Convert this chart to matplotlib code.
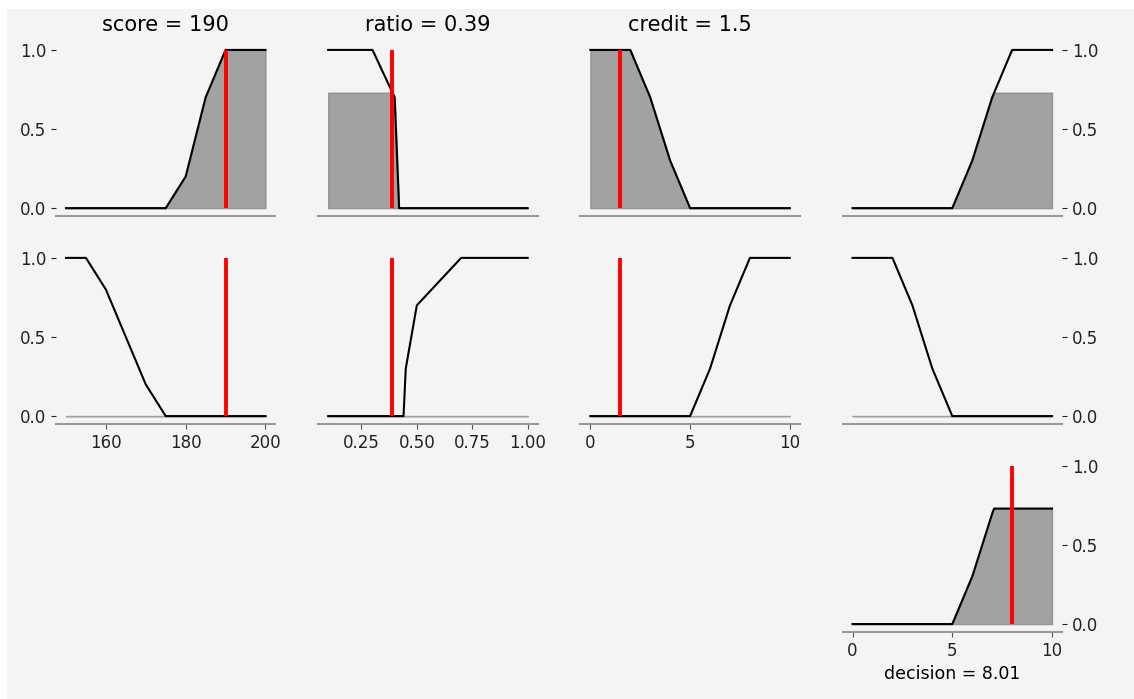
import numpy as np
import matplotlib.pyplot as plt
from matplotlib.patches import Rectangle
from matplotlib.ticker import FormatStrFormatter


# crisp inputs and defuzzified output
score = 190
ratio = 0.39
credit = 1.5
decision = 8.01

# membership functions (universe, degree)
score_x = [150, 155, 160, 165, 170, 175, 180, 185, 190, 195, 200]
score_high = [0, 0, 0, 0, 0, 0, 0.2, 0.7, 1, 1, 1]
score_low = [1, 1, 0.8, 0.5, 0.2, 0, 0, 0, 0, 0, 0]

ratio_low_x = [0.1, 0.3, 0.4, 0.42, 1.0]
ratio_low = [1, 1, 0.7, 0, 0]
ratio_high_x = [0.1, 0.44, 0.45, 0.5, 0.7, 1.0]
ratio_high = [0, 0, 0.3, 0.7, 1, 1]

credit_x = [0, 1, 2, 3, 4, 5, 6, 7, 8, 9, 10]
credit_low = [1, 1, 1, 0.7, 0.3, 0, 0, 0, 0, 0, 0]
credit_high = [0, 0, 0, 0, 0, 0, 0.3, 0.7, 1, 1, 1]

decision_x = [0, 1, 2, 3, 4, 5, 6, 7, 8, 9, 10]
decision_approve = [0, 0, 0, 0, 0, 0, 0.3, 0.7, 1, 1, 1]
decision_reject = [1, 1, 1, 0.7, 0.3, 0, 0, 0, 0, 0, 0]

# two rules: (score, ratio, credit) -> decision
rules = [
    [(score_x, score_high), (ratio_low_x, ratio_low), (credit_x, credit_low), (decision_x, decision_approve)],
    [(score_x, score_low), (ratio_high_x, ratio_high), (credit_x, credit_high), (decision_x, decision_reject)],
]
inputs = [score, ratio, credit]
titles = ['score = {}'.format(score), 'ratio = {}'.format(ratio), 'credit = {}'.format(credit)]
xticks = [[160, 180, 200], [0.25, 0.5, 0.75, 1.0], [0, 5, 10], [0, 5, 10]]
xfmt = ['%d', '%.2f', '%d', '%d']

FILL = dict(color='gray', alpha=0.7)


def clipped(xs, ys, level, n=1001):
    xf = np.linspace(xs[0], xs[-1], n)
    return xf, np.minimum(np.interp(xf, xs, ys), level)


def style(ax, col, show_x):
    for s in ['top', 'left', 'right']:
        ax.spines[s].set_visible(False)
    ax.spines['bottom'].set_color('#9a9a9a')
    ax.spines['bottom'].set_linewidth(1.5)
    ax.set_facecolor('none')
    ax.set_ylim(-0.05, 1.05)
    ax.set_yticks([0, 0.5, 1.0])
    ax.yaxis.set_major_formatter(FormatStrFormatter('%.1f'))
    ax.tick_params(labelsize=12, colors='#222222')
    ax.tick_params(axis='x', colors='#555555', labelcolor='#222222')
    if col == 0:
        ax.tick_params(axis='y', left=True, labelleft=True, right=False, labelright=False)
    elif col == 3:
        ax.tick_params(axis='y', left=False, labelleft=False, right=True, labelright=True)
    else:
        ax.tick_params(axis='y', left=False, labelleft=False)
    if show_x:
        ax.set_xticks(xticks[col])
        ax.xaxis.set_major_formatter(FormatStrFormatter(xfmt[col]))
    else:
        ax.tick_params(axis='x', bottom=False, labelbottom=False)


fig = plt.figure(figsize=(11.34, 6.99), dpi=100)
fig.patches.append(Rectangle((7 / 1134, 0), 1, 1 - 9 / 699, transform=fig.transFigure,
                             facecolor='#f4f4f2', edgecolor='none', zorder=-10))
gs = fig.add_gridspec(3, 4, left=0.0494, right=0.9365, top=0.9399, bottom=0.0959,
                      wspace=0.195, hspace=0.195)

strengths = []
for r, rule in enumerate(rules):
    degrees = [float(np.interp(v, xs, ys)) for v, (xs, ys) in zip(inputs, rule[:3])]
    strength = min(degrees)
    strengths.append(strength)
    for c, (xs, ys) in enumerate(rule):
        ax = fig.add_subplot(gs[r, c])
        level = degrees[c] if c < 3 else strength
        xf, yf = clipped(xs, ys, level)
        ax.fill_between(xf, 0, yf, **FILL)
        ax.plot(xs, ys, color='black', lw=1.5)
        if c < 3:
            ax.vlines(inputs[c], 0, 1, color='red', lw=2.8, zorder=3)
        # input universes get their x axis on the last rule row only
        style(ax, c, show_x=(r == 1 and c < 3))
        if r == 0 and c < 3:
            ax.set_title(titles[c], fontsize=15, pad=8)

# aggregated output
ax = fig.add_subplot(gs[2, 3])
xf = np.linspace(decision_x[0], decision_x[-1], 1001)
agg = np.zeros_like(xf)
for rule, s in zip(rules, strengths):
    xs, ys = rule[3]
    agg = np.maximum(agg, np.minimum(np.interp(xf, xs, ys), s))
ax.fill_between(xf, 0, agg, **FILL)
ax.plot(xf, agg, color='black', lw=1.5)
ax.vlines(decision, 0, 1, color='red', lw=2.8, zorder=3)
style(ax, 3, show_x=True)
ax.set_xlabel('decision = {}'.format(decision), fontsize=12.5, labelpad=4)

plt.savefig('out.png', dpi=100)
